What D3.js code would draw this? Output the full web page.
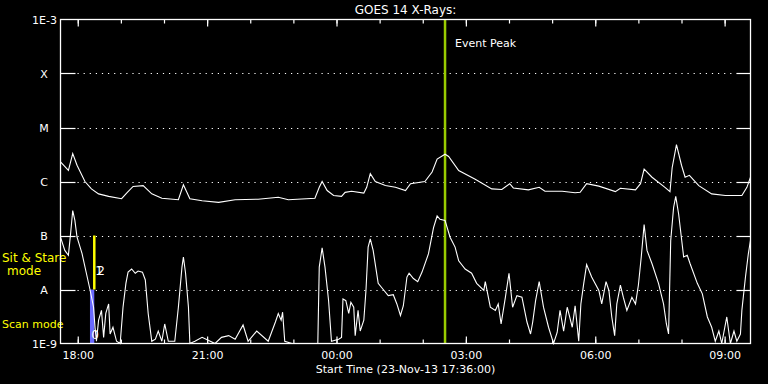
<!DOCTYPE html>
<html>
<head>
<meta charset="utf-8">
<script src="https://cdn.jsdelivr.net/npm/d3@7"></script>
<style>
  html, body { margin: 0; padding: 0; background: #000; }
  svg { display: block; }
  text { font-family: "DejaVu Sans", sans-serif; fill: #fff; }
</style>
</head>
<body>
<script>
// start of the plot: 23-Nov-13 17:36:00 UT, times below are minutes after it
const startTime = Date.UTC(2013, 10, 23, 17, 36, 0);
const spanMinutes = 960;

// GOES 14 long channel (1-8 A), W/m^2
const longMin = [0, 11, 17, 23, 34, 43, 53, 67, 85, 92, 101, 115, 127, 141, 164, 171, 180, 197, 220, 243,
  275, 303, 317, 354, 360, 364, 371, 380, 391, 396, 405, 422, 426, 431, 438, 452, 466, 480, 487, 507,
  517, 524, 535, 540, 554, 577, 600, 614, 625, 630, 651, 666, 674, 698, 716, 723, 732, 749, 772, 779,
  800, 807, 812, 823, 841, 848, 851, 857, 864, 869, 875, 888, 906, 925, 948, 955, 960];
const longFlux = [2.3e-6, 1.6e-6, 3.3e-6, 2.0e-6, 1.0e-6, 7.3e-7, 5.9e-7, 5.3e-7, 4.8e-7, 6.1e-7, 8.1e-7, 8.4e-7, 5.9e-7, 4.9e-7, 4.6e-7, 8.7e-7, 4.8e-7, 4.4e-7, 4.1e-7, 4.6e-7,
  4.7e-7, 5.1e-7, 4.6e-7, 4.9e-7, 7.8e-7, 1.0e-6, 6.8e-7, 5.5e-7, 5.3e-7, 6.3e-7, 6.6e-7, 6.1e-7, 7.8e-7, 1.4e-6, 1.0e-6, 8.4e-7, 7.8e-7, 6.8e-7, 9.1e-7, 1.0e-6,
  1.5e-6, 2.6e-6, 3.2e-6, 2.9e-6, 1.6e-6, 1.1e-6, 7.3e-7, 7.1e-7, 9.1e-7, 7.6e-7, 7.0e-7, 7.8e-7, 6.6e-7, 6.6e-7, 6.2e-7, 6.3e-7, 9.1e-7, 8.2e-7, 6.5e-7, 7.5e-7,
  7.0e-7, 9.1e-7, 1.7e-6, 1.2e-6, 7.8e-7, 6.5e-7, 1.8e-6, 4.8e-6, 2.0e-6, 1.2e-6, 1.3e-6, 8.4e-7, 5.9e-7, 5.5e-7, 5.5e-7, 7.8e-7, 1.2e-6];

// GOES 14 short channel (0.5-4 A), W/m^2
const shortMin = [0, 6, 11, 14, 17, 20, 23, 30, 36, 41, 46, 48, 50, 53, 57, 60, 63, 67, 69, 73,
  78, 83, 87, 91, 94, 99, 104, 108, 114, 118, 122, 127, 132, 136, 141, 145, 150, 159, 164, 169,
  171, 174, 178, 180, 187, 197, 215, 224, 234, 243, 254, 261, 273, 289, 299, 303, 307, 309, 312, 322,
  358, 360, 364, 368, 373, 377, 387, 391, 393, 397, 401, 404, 408, 410, 414, 417, 422, 425, 428, 431,
  435, 442, 449, 456, 463, 468, 473, 477, 482, 485, 491, 497, 503, 512, 519, 524, 528, 535, 542, 549,
  554, 563, 572, 579, 589, 591, 598, 605, 609, 613, 619, 624, 629, 635, 642, 649, 654, 657, 661, 666,
  672, 679, 686, 691, 695, 700, 705, 712, 716, 721, 724, 728, 732, 739, 749, 753, 759, 763, 767, 771,
  774, 779, 783, 788, 795, 800, 804, 808, 812, 816, 823, 832, 839, 843, 846, 849, 853, 856, 860, 867,
  872, 876, 886, 893, 900, 906, 911, 916, 920, 927, 932, 937, 941, 946, 948, 953, 957, 960];
const shortFlux = [9.3e-8, 5.3e-8, 4.3e-8, 1.07e-7, 2.9e-7, 1.9e-7, 9.3e-8, 4.6e-8, 2.0e-8, 1.0e-8, 4.7e-9, 2.0e-9, 1.1e-9, 2.7e-9, 4.1e-9, 1.3e-9, 3.6e-9, 5.4e-9, 1.5e-9, 2.0e-9,
  1.1e-9, 1.0e-9, 4.7e-9, 1.3e-8, 2.1e-8, 2.4e-8, 2.0e-8, 2.2e-8, 2.1e-8, 1.5e-8, 3.6e-9, 1.1e-9, 1.2e-9, 1.7e-9, 1.1e-9, 2.3e-9, 1.1e-9, 1.1e-9, 4.7e-9, 2.6e-8,
  4.0e-8, 2.0e-8, 4.7e-9, 1.0e-9, 1.1e-9, 1.3e-9, 1.0e-9, 1.3e-9, 1.4e-9, 1.2e-9, 2.2e-9, 1.1e-9, 1.7e-9, 1.1e-9, 2.5e-9, 3.6e-9, 2.7e-9, 3.8e-9, 1.1e-9, 1.0e-9,
  1.0e-9, 2.6e-8, 5.9e-8, 2.6e-8, 6.2e-9, 1.1e-9, 1.2e-9, 1.3e-9, 6.7e-9, 6.2e-9, 3.6e-9, 5.8e-9, 4.7e-9, 1.4e-9, 4.1e-9, 1.7e-9, 2.7e-9, 9.6e-9, 6.1e-8, 8.7e-8,
  5.3e-8, 1.3e-8, 1.0e-8, 7.7e-9, 8.0e-9, 5.4e-9, 3.3e-9, 5.0e-9, 1.7e-8, 2.0e-8, 1.6e-8, 1.4e-8, 2.1e-8, 4.6e-8, 1.4e-7, 2.3e-7, 2.0e-7, 1.9e-7, 9.3e-8, 6.1e-8,
  3.4e-8, 2.4e-8, 2.0e-8, 1.3e-8, 9.6e-9, 1.4e-8, 4.7e-9, 4.1e-9, 5.4e-9, 2.3e-9, 7.2e-9, 2.0e-8, 4.7e-9, 7.7e-9, 7.2e-9, 2.5e-9, 1.5e-9, 2.5e-9, 6.2e-9, 1.4e-8,
  4.7e-9, 2.0e-9, 1.0e-9, 1.6e-9, 4.1e-9, 1.7e-9, 4.7e-9, 2.0e-9, 5.0e-9, 1.1e-9, 5.4e-9, 1.3e-8, 2.9e-8, 1.7e-8, 9.6e-9, 5.4e-9, 1.4e-8, 9.6e-9, 3.1e-9, 1.4e-9,
  5.4e-9, 1.2e-8, 7.2e-9, 4.1e-9, 7.2e-9, 5.4e-9, 1.2e-8, 4.0e-8, 1.6e-7, 5.3e-8, 3.0e-8, 1.3e-8, 5.4e-9, 2.3e-9, 1.5e-9, 8.1e-8, 3.3e-7, 5.3e-7, 2.5e-7, 4.0e-8,
  4.3e-8, 3.0e-8, 1.3e-8, 8.3e-9, 3.1e-9, 2.0e-9, 1.1e-9, 1.7e-9, 1.0e-9, 3.1e-9, 1.0e-9, 1.7e-9, 1.1e-9, 1.5e-9, 4.1e-9, 1.7e-8, 4.6e-8, 8.1e-8];

// flare classes on the y axis
const classFlux = [1e-4, 1e-5, 1e-6, 1e-7, 1e-8];
const classNames = ["X", "M", "C", "B", "A"];
const endFlux = [1e-3, 1e-9];
const endNames = ["1E-3", "1E-9"];

// markers
const eventPeakMin = 535;
const stareMin = 47;          // sit & stare starts
const scanStartMin = 41;

const width = 768, height = 384;
const margin = { left: 60.5, right: 17.5, top: 19.5, bottom: 40.5 };

const svg = d3.select("body").append("svg")
  .attr("width", width).attr("height", height)
  .style("background", "#000");

const toDate = m => new Date(startTime + m * 60000);

const x_scale = d3.scaleUtc()
  .domain([toDate(0), toDate(spanMinutes)])
  .range([margin.left, width - margin.right]);
const y_scale = d3.scaleLog()
  .domain([1e-9, 1e-3])
  .range([height - margin.bottom, margin.top])
  .clamp(true);

const x0 = margin.left, x1 = width - margin.right;
const y0 = margin.top, y1 = height - margin.bottom;

// class levels: solid stubs at both sides, dotted between
const grid = svg.append("g");
classFlux.forEach(f => {
  const y = Math.round(y_scale(f)) + 0.5;
  grid.append("line").attr("x1", x0).attr("x2", x0 + 15).attr("y1", y).attr("y2", y)
    .attr("stroke", "#fff").attr("stroke-width", 1.2);
  grid.append("line").attr("x1", x1 - 14).attr("x2", x1).attr("y1", y).attr("y2", y)
    .attr("stroke", "#fff").attr("stroke-width", 1.2);
  grid.append("line").attr("x1", x0 + 17).attr("x2", x1 - 14).attr("y1", y).attr("y2", y)
    .attr("stroke", "#fff").attr("stroke-width", 1.2)
    .attr("stroke-dasharray", "1.2,4.9");
});

// class labels
svg.append("g").selectAll("text").data(classFlux).join("text")
  .attr("x", 44).attr("y", d => y_scale(d) + 4)
  .attr("text-anchor", "middle").style("font-size", "11px")
  .text((d, i) => classNames[i]);
svg.append("g").selectAll("text").data(endFlux).join("text")
  .attr("x", 57).attr("y", d => y_scale(d) + 4)
  .attr("text-anchor", "end").style("font-size", "11px")
  .text((d, i) => endNames[i]);

// scan mode / sit & stare marks
svg.append("rect")
  .attr("x", x_scale(toDate(scanStartMin)))
  .attr("width", x_scale(toDate(stareMin)) - x_scale(toDate(scanStartMin)))
  .attr("y", y_scale(1e-8)).attr("height", y_scale(1e-9) - y_scale(1e-8))
  .attr("fill", "#6a6aff");
svg.append("line")
  .attr("x1", x_scale(toDate(stareMin))).attr("x2", x_scale(toDate(stareMin)))
  .attr("y1", y_scale(1e-7)).attr("y2", y_scale(1e-8))
  .attr("stroke", "#ffff00").attr("stroke-width", 2.5);

svg.append("text").attr("x", 2).attr("y", 262).style("fill", "#ffff00").style("font-size", "12px")
  .text("Sit & Stare");
svg.append("text").attr("x", 24).attr("y", 275).attr("text-anchor", "middle")
  .style("fill", "#ffff00").style("font-size", "12px").text("mode");
svg.append("text").attr("x", 2).attr("y", 328).style("fill", "#ffff00").style("font-size", "11px")
  .text("Scan mode");

// event peak
const peakX = x_scale(toDate(eventPeakMin));
svg.append("line").attr("x1", peakX).attr("x2", peakX).attr("y1", y0).attr("y2", y1)
  .attr("stroke", "#99cc00").attr("stroke-width", 2.5);
svg.append("text").attr("x", peakX + 10).attr("y", 47).style("font-size", "11px")
  .text("Event Peak");

// curves
const line_generator = d3.line()
  .x(d => x_scale(toDate(d[0])))
  .y(d => y_scale(d[1]));

svg.append("path")
  .datum(d3.zip(longMin, longFlux))
  .attr("fill", "none").attr("stroke", "#fff").attr("stroke-width", 1.1)
  .attr("d", line_generator);
svg.append("path")
  .datum(d3.zip(shortMin, shortFlux))
  .attr("fill", "none").attr("stroke", "#fff").attr("stroke-width", 1.1)
  .attr("d", line_generator);

// little labels on the mode marks
const stareX = x_scale(toDate(stareMin));
svg.append("text").attr("x", stareX + 1).attr("y", 275).style("font-size", "12px").text("1");
svg.append("text").attr("x", stareX + 3).attr("y", 275).style("font-size", "12px").text("2");
svg.append("text").attr("x", stareX - 3).attr("y", 339).style("font-size", "12px").text("0");

// frame
svg.append("rect").attr("x", x0).attr("y", y0).attr("width", x1 - x0).attr("height", y1 - y0)
  .attr("fill", "none").attr("stroke", "#fff").attr("stroke-width", 1.3);

// time axes: major ticks every 3 h, minor every hour
const x_axis = d3.axisBottom(x_scale)
  .ticks(d3.utcHour.every(3))
  .tickSize(-7).tickPadding(8)
  .tickFormat(d3.utcFormat("%H:%M"));
const x_minor = d3.axisBottom(x_scale).ticks(d3.utcHour.every(1)).tickSize(-4).tickFormat("");
const x_top = d3.axisTop(x_scale).ticks(d3.utcHour.every(3)).tickSize(-7).tickFormat("");
const x_top_minor = d3.axisTop(x_scale).ticks(d3.utcHour.every(1)).tickSize(-4).tickFormat("");

[[x_axis, y1], [x_minor, y1], [x_top, y0], [x_top_minor, y0]].forEach(([ax, y]) => {
  const g = svg.append("g").attr("transform", `translate(0,${y})`).call(ax);
  g.select(".domain").remove();
  g.selectAll(".tick line").attr("stroke", "#fff").attr("stroke-width", 1.2);
  g.selectAll(".tick text").attr("fill", "#fff")
    .style("font-family", "DejaVu Sans, sans-serif").style("font-size", "11px");
});

// titles
svg.append("text").attr("x", (x0 + x1) / 2).attr("y", 14).attr("text-anchor", "middle")
  .style("font-size", "12px").text("GOES 14 X-Rays:");
svg.append("text").attr("x", (x0 + x1) / 2).attr("y", 373).attr("text-anchor", "middle")
  .style("font-size", "11px").text("Start Time (23-Nov-13 17:36:00)");
</script>
</body>
</html>
